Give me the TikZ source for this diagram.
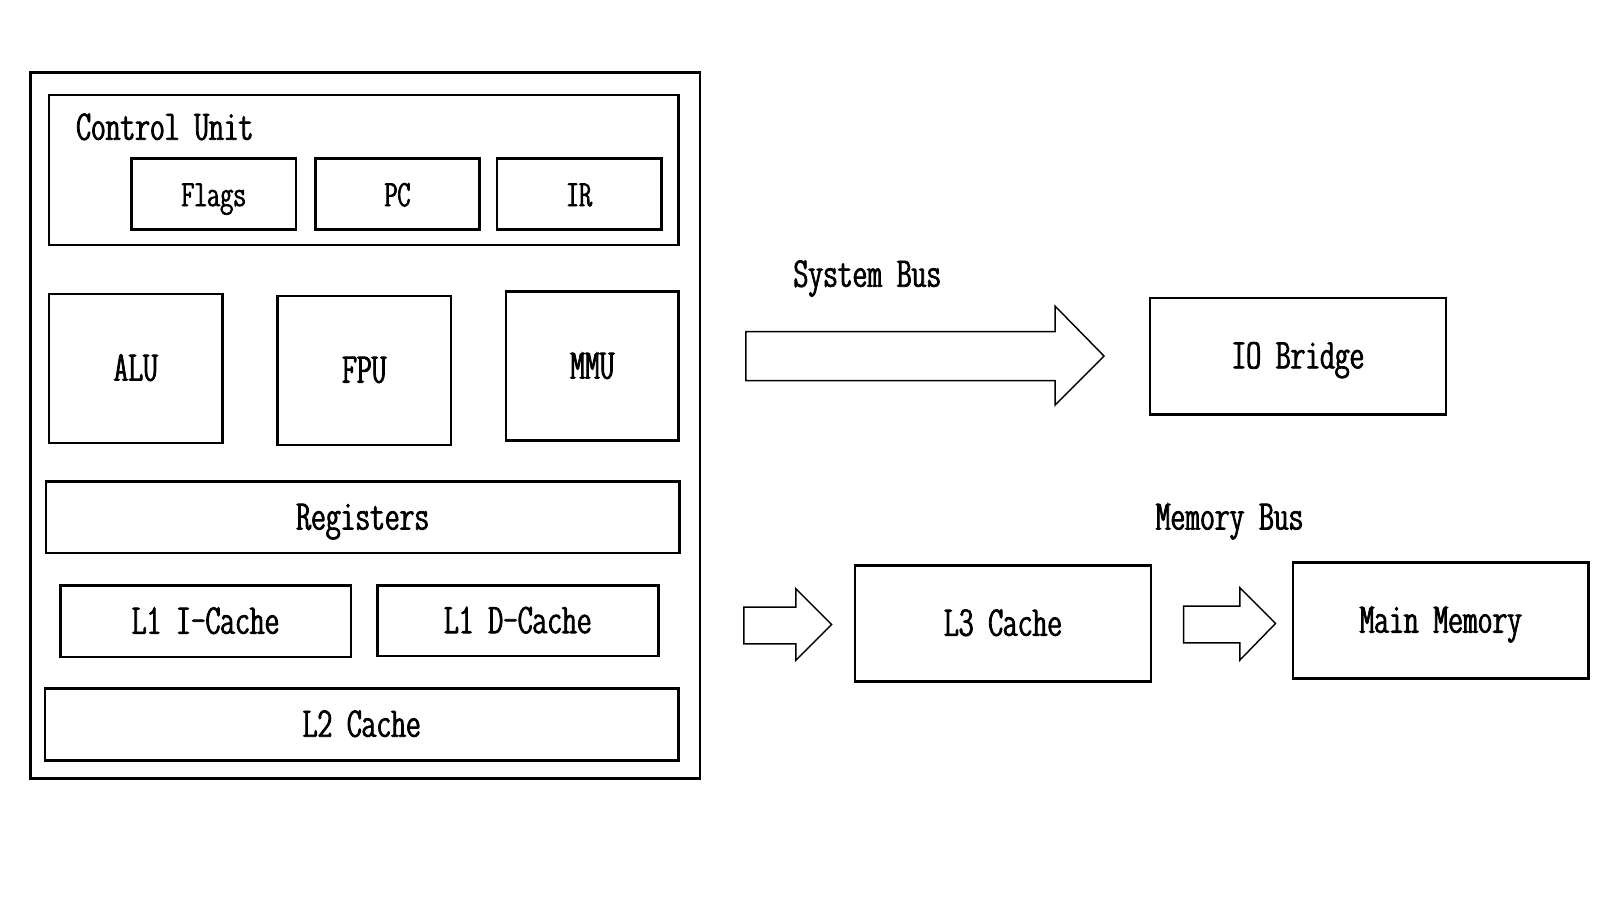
\documentclass[tikz,border=0pt]{standalone}
\usepackage{fontspec}
\newfontfamily\lcfont{lmmonoltcond10-regular}[Extension=.otf,BoldFont=lmmonoltcond10-regular,BoldFeatures={FakeBold=2}]
\usetikzlibrary{fit}
\begin{document}
\begin{tikzpicture}[x=0.01cm,y=-0.01cm,
  box/.style={draw,line width=0.75pt,inner sep=0pt},
  lbl/.style={font=\fontsize{11.75}{13}\lcfont\bfseries,inner sep=0pt,text height=0.68em,text depth=0pt},
  slbl/.style={font=\fontsize{10.3}{12}\lcfont\bfseries,inner sep=0pt,text height=0.68em,text depth=0pt},
  bigarrow/.style={draw,line width=0.4pt,fill=white}]
\useasboundingbox (0,0) rectangle (1568,882);
% CPU outer
\node[box,fit={(30,71) (686,763)}] (cpu) {};
% Control unit
\node[box,fit={(48,93) (665,240)}] (cu) {};
\node[lbl,anchor=west] (cul) at (74,125) {Control Unit};
\node[box,fit={(129,155) (290,225)}] (flags) {};
\node[slbl] at (flags.center) {Flags};
\node[box,fit={(309,155) (470,225)}] (pc) {};
\node[slbl] at (pc.center) {PC};
\node[box,fit={(487,155) (648,225)}] (ir) {};
\node[slbl] at (ir.center) {IR};
% units
\node[box,fit={(48,288) (218,434)}] (alu) {};
\node[lbl] at (alu.center) {ALU};
\node[box,fit={(272,290) (442,436)}] (fpu) {};
\node[lbl] at (fpu.center) {FPU};
\node[box,fit={(496,286) (665,432)}] (mmu) {};
\node[lbl] at (mmu.center) {MMU};
\node[box,fit={(45,472) (666,542)}] (reg) {};
\node[lbl] at (reg.center) {Registers};
\node[box,fit={(59,574) (344,644)}] (l1i) {};
\node[lbl] at (l1i.center) {L1 I-Cache};
\node[box,fit={(370,574) (645,643)}] (l1d) {};
\node[lbl] at (l1d.center) {L1 D-Cache};
\node[box,fit={(44,675) (665,745)}] (l2) {};
\node[lbl] at (l2.center) {L2 Cache};
% right side
\node[lbl] (sysbus) at (850,269) {System Bus};
\node[box,fit={(1127,292) (1417,406)}] (io) {};
\node[lbl] at (io.center) {IO Bridge};
\node[lbl] (membus) at (1205,507) {Memory Bus};
\node[box,fit={(838,554) (1128,668)}] (l3) {};
\node[lbl] at (l3.center) {L3 Cache};
\node[box,fit={(1267,551) (1557,665)}] (mem) {};
\node[lbl] at (mem.center) {Main Memory};
% block arrows
\draw[bigarrow] (731,325) -- (1034,325) -- (1034,300) -- (1082,349) -- (1034,397) -- (1034,373) -- (731,373) -- cycle;
\draw[bigarrow] (729,595) -- (780,595) -- (780,577) -- (815,612) -- (780,647) -- (780,631) -- (729,631) -- cycle;
\draw[bigarrow] (1160,594) -- (1215,594) -- (1215,576) -- (1250,611) -- (1215,647) -- (1215,630) -- (1160,630) -- cycle;
\end{tikzpicture}
\end{document}
